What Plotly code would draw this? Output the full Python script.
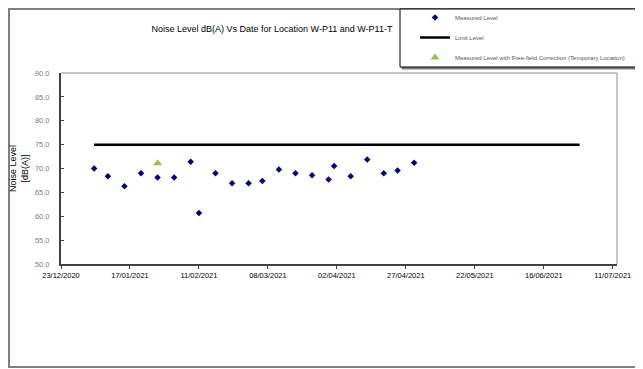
import plotly.graph_objects as go

# ---- data ----
measured_dates = ['2021-01-04', '2021-01-09', '2021-01-15', '2021-01-21', '2021-01-27',
                  '2021-02-02', '2021-02-08', '2021-02-11', '2021-02-17', '2021-02-23',
                  '2021-03-01', '2021-03-06', '2021-03-12', '2021-03-18', '2021-03-24',
                  '2021-03-30', '2021-04-01', '2021-04-07', '2021-04-13', '2021-04-19',
                  '2021-04-24', '2021-04-30']
measured_levels = [70.0, 68.4, 66.3, 69.0, 68.1,
                   68.1, 71.4, 60.7, 69.0, 66.9,
                   66.9, 67.4, 69.8, 69.0, 68.6,
                   67.7, 70.5, 68.4, 71.9, 69.0,
                   69.6, 71.2]
limit_dates = ['2021-01-04', '2021-06-29']
limit_levels = [75, 75]
corrected_dates = ['2021-01-27']
corrected_levels = [71.1]

# the page body adds an 8px offset, so the figure is laid out in page pixels minus 8
OFF = 8
W, H = 643 - OFF, 369 - OFF
L, R, T, B = 61 - OFF, 617 - OFF, 73 - OFF, 264 - OFF  # plot area box


def px_x(p):
    return (p - OFF - L) / (R - L)


def px_y(p):
    return (B - (p - OFF)) / (B - T)


fig = go.Figure()
fig.add_trace(go.Scatter(x=measured_dates, y=measured_levels, mode='markers',
                         name='Measured Level', legendgroup='a',
                         marker=dict(symbol='diamond', color='#000080', size=5)))
fig.add_trace(go.Scatter(x=limit_dates, y=limit_levels, mode='lines',
                         name='Limit Level', legendgroup='b',
                         line=dict(color='black', width=2.5)))
fig.add_trace(go.Scatter(x=corrected_dates, y=corrected_levels, mode='markers',
                         name='Measured Level with Free-field Correction (Temporary Location)',
                         legendgroup='c',
                         marker=dict(symbol='triangle-up', color='#9BBB59', size=8)))

shapes = [
    # outer frame
    dict(type='rect', xref='paper', yref='paper', x0=px_x(9), x1=px_x(641), y0=px_y(367), y1=px_y(9),
         line=dict(color='#808080', width=2), fillcolor='rgba(0,0,0,0)', layer='below'),
    # plot area frame (top/right light grey)
    dict(type='line', xref='paper', yref='paper', x0=0, x1=1, y0=1, y1=1,
         line=dict(color='#b4b4b4', width=1.5)),
    dict(type='line', xref='paper', yref='paper', x0=1, x1=1, y0=0, y1=1,
         line=dict(color='#b4b4b4', width=1.5)),
    # legend shadow & box
    dict(type='rect', xref='paper', yref='paper', x0=px_x(402), x1=px_x(641), y0=px_y(69), y1=px_y(9),
         line=dict(color='#808080', width=1), fillcolor='#808080', layer='below'),
    dict(type='rect', xref='paper', yref='paper', x0=px_x(400), x1=px_x(639), y0=px_y(67), y1=px_y(9),
         line=dict(color='black', width=1), fillcolor='white', layer='below'),
]

fig.update_layout(
    width=W, height=H,
    margin=dict(l=L, r=W - R, t=T, b=H - B, autoexpand=False),
    paper_bgcolor='white', plot_bgcolor='white',
    font=dict(family='Liberation Sans, Arial, sans-serif', color='black'),
    title=dict(text='Noise Level dB(A) Vs Date for Location W-P11 and W-P11-T',
               x=(272 - OFF) / W, xanchor='center',
               y=1 - (29 - OFF) / H, yanchor='middle',
               font=dict(size=9, color='black')),
    showlegend=True,
    legend=dict(x=px_x(415), y=px_y(3), xanchor='left', yanchor='top',
                bgcolor='rgba(0,0,0,0)', borderwidth=0,
                font=dict(size=6, color='#555555'),
                tracegroupgap=1, traceorder='grouped'),
    shapes=shapes,
    xaxis=dict(type='date', range=['2020-12-23', '2021-07-12 13:00'],
               tick0='2020-12-23', dtick=25 * 86400000, tickformat='%d/%m/%Y',
               showgrid=False, zeroline=False, automargin=False,
               showline=True, linecolor='#404040', linewidth=2,
               ticks='outside', ticklen=3, tickcolor='#404040',
               tickfont=dict(size=7.5, color='black')),
    yaxis=dict(range=[50, 90], dtick=5, tickformat='.1f',
               showgrid=False, zeroline=False, automargin=False,
               showline=True, linecolor='#404040', linewidth=2,
               ticks='inside', ticklen=3, tickcolor='#404040',
               ticklabelstandoff=8,
               tickfont=dict(size=7.5, color='#808080'),
               title=dict(text='Noise Level<br>[dB(A)]', font=dict(size=9, color='black'),
                          standoff=8)),
)

fig.write_html('out.html')
